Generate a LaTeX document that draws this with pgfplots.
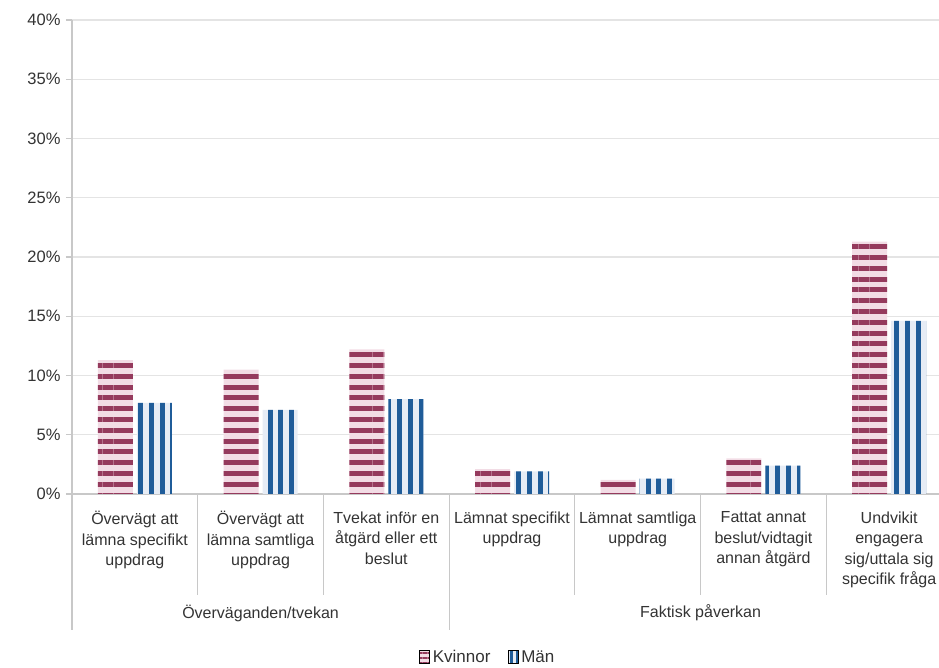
\documentclass[border=0pt]{standalone}
\usepackage{pgfplots}
\pgfplotsset{compat=1.18}
\usepackage{fontspec}
\setmainfont{Liberation Sans}
\usetikzlibrary{patterns.meta}
\definecolor{kdark}{HTML}{953A5D}
\definecolor{klight}{HTML}{F2DCE5}
\definecolor{mdark}{HTML}{1F5C99}
\definecolor{mlight}{HTML}{E6ECF5}
\definecolor{gridc}{HTML}{E4E4E4}
\definecolor{axc}{HTML}{C8C8C8}
\definecolor{txt}{HTML}{333333}
\tikzset{
  kpat/.style={fill=klight, draw=none, postaction={pattern={Lines[angle=0,distance=10.8pt,line width=5pt]}, pattern color=kdark}},
  mpat/.style={fill=mlight, draw=none, postaction={pattern={Lines[angle=90,distance=10.8pt,line width=5pt]}, pattern color=mdark}},
  klpat/.style={fill=klight, draw=none, postaction={pattern={Lines[angle=0,distance=5pt,line width=2.5pt]}, pattern color=kdark}},
  mlpat/.style={fill=mlight, draw=none, postaction={pattern={Lines[angle=90,distance=5.5pt,line width=2.8pt]}, pattern color=mdark}},
}
\begin{document}
\begin{tikzpicture}
\begin{axis}[
  scale only axis, width=880pt, height=474pt,
  xmin=-0.5, xmax=6.5, ymin=0, ymax=40,
  ybar, bar width=35pt,
  clip=false,
  axis lines=left,
  axis line style={-, draw=axc, line width=1.2pt},
  ytick={0,5,...,40},
  yticklabel={\pgfmathprintnumber{\tick}\%},
  /pgf/number format/assume math mode=true,
  ymajorgrids, grid style={draw=gridc, line width=1.4pt},
  ytick style={draw=axc, line width=1.2pt},
  tick align=outside, major tick length=6pt,
  ytick pos=left,
  xtick={0,1,2,3,4,5,6},
  xtick style={draw=none},
  xticklabels={{Övervägt att\\lämna specifikt\\uppdrag},{Övervägt att\\lämna samtliga\\uppdrag},{Tvekat inför en\\åtgärd eller ett\\beslut},{Lämnat specifikt\\uppdrag},{Lämnat samtliga\\uppdrag},{Fattat annat\\beslut/vidtagit\\annan åtgärd},{Undvikit\\engagera\\sig/uttala sig\\specifik fråga}},
  xticklabel style={align=center, anchor=north, yshift=-8pt, font=\fontsize{16}{20.5}\selectfont, text=txt},
  yticklabel style={font=\fontsize{16.5}{20}\selectfont, text=txt, xshift=-2pt},
  legend style={at={(0.472,-0.344)}, anchor=center, draw=none, fill=none, font=\fontsize{17}{20}\selectfont, text=txt, legend columns=2, /tikz/every even column/.append style={column sep=14pt}, legend cell align=left},
]
\addplot[kpat, bar shift=-19.5pt, forget plot] coordinates {(0,11.3) (1,10.5) (2,12.2) (3,2.1) (4,1.2) (5,3.0) (6,21.3)};
\addplot[mpat, bar shift=19.5pt, forget plot] coordinates {(0,7.7) (1,7.1) (2,8.0) (3,1.9) (4,1.3) (5,2.4) (6,14.6)};
\addlegendimage{legend image code/.code={\path[klpat] (0pt,-6.5pt) rectangle (10pt,6.5pt);}}
\addlegendentry{Kvinnor}
\addlegendimage{legend image code/.code={\path[mlpat] (0pt,-6.5pt) rectangle (10pt,6.5pt);}}
\addlegendentry{Män}
\draw[axc, line width=1.2pt] (axis cs:-0.5,0) -- ([yshift=-136pt]axis cs:-0.5,0);
\draw[axc, line width=1.2pt] (axis cs:2.5,0) -- ([yshift=-136pt]axis cs:2.5,0);
\draw[axc, line width=1.2pt] (axis cs:6.5,0) -- ([yshift=-136pt]axis cs:6.5,0);
\draw[axc, line width=1.2pt] (axis cs:0.5,0) -- ([yshift=-101pt]axis cs:0.5,0);
\draw[axc, line width=1.2pt] (axis cs:1.5,0) -- ([yshift=-101pt]axis cs:1.5,0);
\draw[axc, line width=1.2pt] (axis cs:3.5,0) -- ([yshift=-101pt]axis cs:3.5,0);
\draw[axc, line width=1.2pt] (axis cs:4.5,0) -- ([yshift=-101pt]axis cs:4.5,0);
\draw[axc, line width=1.2pt] (axis cs:5.5,0) -- ([yshift=-101pt]axis cs:5.5,0);
\node[text=txt, font=\fontsize{16}{20}\selectfont] at ([yshift=-119pt]axis cs:1,0) {Överväganden/tvekan};
\node[text=txt, font=\fontsize{16}{20}\selectfont] at ([yshift=-119pt]axis cs:4.5,0) {Faktisk påverkan};
\end{axis}
\pgfresetboundingbox
\path[use as bounding box] (-72pt,-174pt) rectangle (867pt,494pt);
\end{tikzpicture}
\end{document}
